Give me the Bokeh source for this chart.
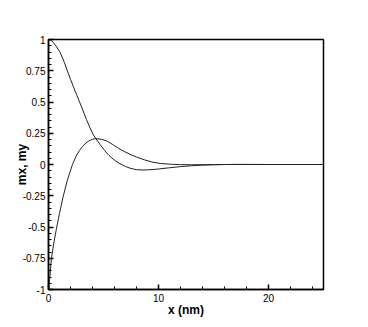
from bokeh.plotting import figure
from bokeh.models import Range1d, FixedTicker
from bokeh.embed import file_html
from bokeh.resources import INLINE

# data
x_mx = [0.0, 0.25, 0.45, 0.75, 1.0, 1.2, 1.45, 1.7, 2.0, 2.25, 2.55, 2.85, 3.15, 3.45, 3.75, 4.05, 4.4,
        4.75, 5.1, 5.5, 6.0, 6.5, 7.0, 7.5, 8.0, 8.5, 9.0, 9.5, 10.0, 11.0, 12.0, 13.0, 14.0, 15.0,
        16.0, 17.0, 18.0, 20.0, 22.5, 25.0]
mx = [1.0, 0.993, 0.974, 0.94, 0.905, 0.868, 0.815, 0.752, 0.682, 0.625, 0.56, 0.494, 0.428, 0.36,
      0.298, 0.242, 0.195, 0.153, 0.112, 0.072, 0.034, 0.006, -0.016, -0.032, -0.041, -0.044,
      -0.043, -0.04, -0.036, -0.026, -0.017, -0.010, -0.005, -0.002, 0.0, 0.001, 0.001, 0.0, 0.0, 0.0]

x_my = [0.0, 0.1, 0.27, 0.5, 0.73, 1.0, 1.33, 1.7, 2.18, 2.5, 2.8, 3.1, 3.4, 3.7, 4.0, 4.3, 4.8,
        5.3, 5.8, 6.25, 6.8, 7.4, 8.0, 8.7, 9.4, 10.2, 11.1, 12.0, 13.0, 14.0, 15.0, 16.0, 18.0,
        20.0, 22.5, 25.0]
my = [-1.0, -0.92, -0.75, -0.62, -0.51, -0.39, -0.258, -0.13, 0.0, 0.065, 0.11, 0.145, 0.172,
      0.19, 0.202, 0.207, 0.202, 0.188, 0.162, 0.136, 0.108, 0.082, 0.06, 0.038, 0.02, 0.008,
      0.002, -0.001, -0.002, -0.002, -0.001, 0.0, 0.0, 0.0, 0.0, 0.0]

y_ticks = [-1, -0.75, -0.5, -0.25, 0, 0.25, 0.5, 0.75, 1]
y_labels = ["-1", "-0.75", "-0.5", "-0.25", "0", "0.25", "0.5", "0.75", "1"]
x_ticks = [0, 10, 20]
x_labels = ["0", "10", "20"]

p = figure(width=360, height=319, output_backend="svg", toolbar_location=None,
           x_range=Range1d(0, 25), y_range=Range1d(-1, 1),
           min_border_left=48, min_border_top=39, min_border_right=37, min_border_bottom=30)
p.grid.visible = False
p.background_fill_color = "white"
p.border_fill_color = "white"
p.outline_line_color = "black"
p.outline_line_width = 1.5

p.line(x_mx, mx, line_color="#222222", line_width=1)
p.line(x_my, my, line_color="#222222", line_width=1)

p.xaxis.ticker = FixedTicker(ticks=x_ticks, minor_ticks=[v * 2 for v in range(13)])
p.xaxis.major_label_overrides = {t: l for t, l in zip(x_ticks, x_labels)}
p.yaxis.ticker = FixedTicker(ticks=y_ticks, minor_ticks=[round(-1 + 0.05 * i, 2) for i in range(41)])
p.yaxis.major_label_overrides = {t: l for t, l in zip(y_ticks, y_labels)}

for ax in (p.xaxis[0], p.yaxis[0]):
    ax.axis_line_width = 1.5
    ax.axis_line_color = "black"
    ax.major_tick_in = 5
    ax.major_tick_out = 0
    ax.minor_tick_in = 3
    ax.minor_tick_out = 0
    ax.major_tick_line_width = 1.5
    ax.minor_tick_line_width = 1
    ax.major_label_text_font = "Liberation Sans"
    ax.major_label_text_font_size = "10px"
    ax.major_label_text_color = "black"
    ax.axis_label_text_font = "Liberation Sans"
    ax.axis_label_text_font_style = "bold"
    ax.axis_label_text_font_size = "12px"
    ax.axis_label_text_color = "black"

p.xaxis.axis_label = "x (nm)"
p.xaxis.major_label_standoff = 4
p.xaxis.axis_label_standoff = -2
p.yaxis.axis_label = "mx, my"
p.yaxis.major_label_standoff = 3
p.yaxis.axis_label_standoff = -9

open("out.html", "w").write(file_html(p, INLINE))
